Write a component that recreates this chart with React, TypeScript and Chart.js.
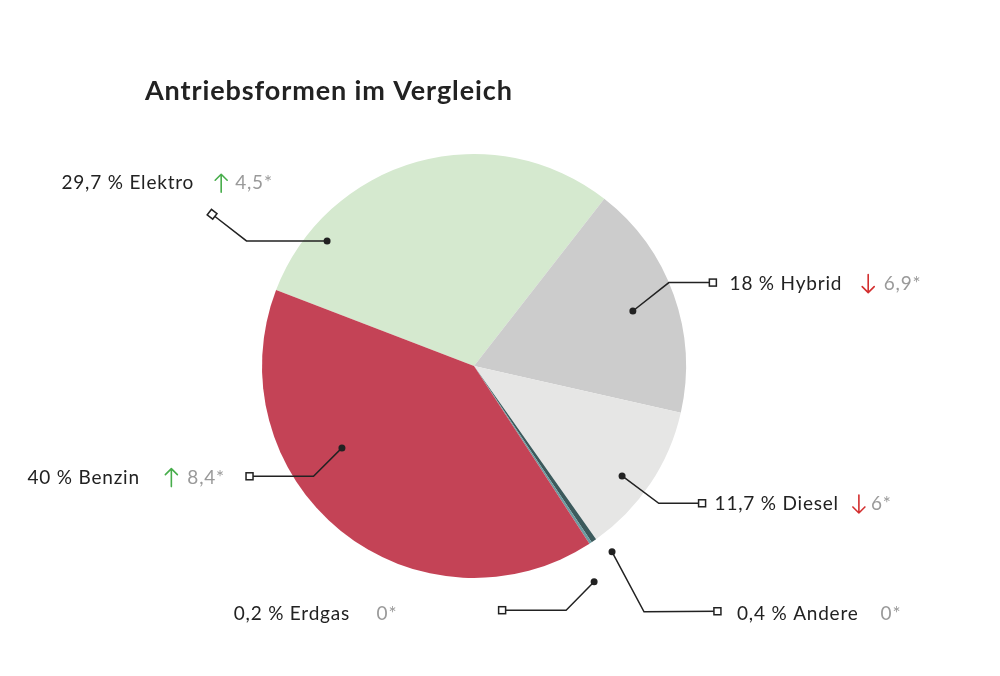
import React, { useEffect, useRef } from "react";
import { Chart, registerables } from "chart.js";

Chart.register(...registerables);

const TITLE = "Antriebsformen im Vergleich";
const CATEGORIES = ["Elektro", "Hybrid", "Diesel", "Andere", "Erdgas", "Benzin"];
const SHARES = [29.7, 18, 11.7, 0.4, 0.2, 40];
const SHARE_LABELS = ["29,7", "18", "11,7", "0,4", "0,2", "40"];
const CHANGES = ["4,5*", "6,9*", "6*", "0*", "0*", "8,4*"];
const TRENDS = ["up", "down", "down", "none", "none", "up"];
const COLORS = ["#d5e9cf", "#cccccc", "#e6e6e5", "#3c5a5c", "#6d9ca1", "#c44356"];

// leader-line layout (styling only): angle offset from slice middle (deg), radius factor,
// elbow & marker offsets relative to the dot, text start/baseline relative to the marker,
// gaps: [name -> arrow/value, arrow -> value]
const LAYOUT = [
  { dAng: -34.06, rf: 0.91, elbow: [-80.6, 0], marker: [-115, -26.7], text: [-150.6, -25], gaps: [21, 20] },
  { dAng: 0.58, rf: 0.793, elbow: [36, -28.4], marker: [80, -28.4], text: [16.7, 7], gaps: [20, 21.5] },
  { dAng: 2.82, rf: 0.87, elbow: [36.7, 27.3], marker: [80, 27.3], text: [12.5, 6.7], gaps: [14, 18] },
  { dAng: -2.16, rf: 1.092, elbow: [32, 60], marker: [105.4, 59.4], text: [19.6, 8.3], gaps: [22, 0] },
  { dAng: 4.26, rf: 1.165, elbow: [-28, 28.4], marker: [-92, 28.4], text: [-268.4, 10], gaps: [26.5, 0] },
  { dAng: 19.2, rf: 0.733, elbow: [-28.4, 28.4], marker: [-92.4, 28.4], text: [-222, 7.3], gaps: [25.5, 22] },
];

const FONT = "Lato, 'Open Sans', sans-serif";
const INK = "#222222";

function drawArrow(ctx: CanvasRenderingContext2D, x: number, base: number, dir: string) {
  const color = dir === "up" ? "#47ad4b" : "#d32f2f";
  ctx.save();
  ctx.strokeStyle = color;
  ctx.lineWidth = 1.6;
  ctx.lineCap = "round";
  ctx.lineJoin = "round";
  const top = base - 15;
  const bot = base + 3;
  ctx.beginPath();
  ctx.moveTo(x, top);
  ctx.lineTo(x, bot);
  if (dir === "up") {
    ctx.moveTo(x - 6, top + 6);
    ctx.lineTo(x, top);
    ctx.lineTo(x + 6, top + 6);
  } else {
    ctx.moveTo(x - 6, bot - 6);
    ctx.lineTo(x, bot);
    ctx.lineTo(x + 6, bot - 6);
  }
  ctx.stroke();
  ctx.restore();
}

function setSpacing(ctx: any, v: string) {
  if ("letterSpacing" in ctx) ctx.letterSpacing = v;
}

const leaderPlugin = {
  id: "leaderLabels",
  afterDraw(chart: any) {
    const ctx: CanvasRenderingContext2D = chart.ctx;
    const meta = chart.getDatasetMeta(0);
    ctx.save();
    // title
    ctx.fillStyle = INK;
    ctx.font = `bold 27px ${FONT}`;
    setSpacing(ctx, "0.9px");
    ctx.textBaseline = "alphabetic";
    ctx.textAlign = "left";
    ctx.fillText(TITLE, 145, 100);

    meta.data.forEach((arc: any, i: number) => {
      const p = arc.getProps(["x", "y", "startAngle", "endAngle", "outerRadius"], true);
      const L = LAYOUT[i];
      const ang = (p.startAngle + p.endAngle) / 2 + (L.dAng * Math.PI) / 180;
      const r = p.outerRadius * L.rf;
      const dx = p.x + r * Math.cos(ang);
      const dy = p.y + r * Math.sin(ang);
      const ex = dx + L.elbow[0];
      const ey = dy + L.elbow[1];
      const mx = dx + L.marker[0];
      const my = dy + L.marker[1];

      ctx.strokeStyle = INK;
      ctx.lineWidth = 1.5;
      ctx.beginPath();
      ctx.moveTo(dx, dy);
      ctx.lineTo(ex, ey);
      ctx.lineTo(mx, my);
      ctx.stroke();

      ctx.fillStyle = INK;
      ctx.beginPath();
      ctx.arc(dx, dy, 3.5, 0, Math.PI * 2);
      ctx.fill();

      // marker square aligned with last segment
      const rot = Math.atan2(my - ey, mx - ex);
      ctx.save();
      ctx.translate(mx, my);
      ctx.rotate(rot);
      ctx.fillStyle = "#ffffff";
      ctx.fillRect(-3.5, -3.5, 7, 7);
      ctx.strokeStyle = INK;
      ctx.lineWidth = 1.5;
      ctx.strokeRect(-3.5, -3.5, 7, 7);
      ctx.restore();

      // texts
      const tx = mx + L.text[0];
      const ty = my + L.text[1];
      ctx.font = `19px ${FONT}`;
      setSpacing(ctx, "0.8px");
      ctx.fillStyle = INK;
      const name = `${SHARE_LABELS[i]} % ${CATEGORIES[i]}`;
      ctx.fillText(name, tx, ty);
      let cx = tx + ctx.measureText(name).width + L.gaps[0];
      if (TRENDS[i] !== "none") {
        drawArrow(ctx, cx + 6, ty, TRENDS[i]);
        cx += L.gaps[1];
      }
      ctx.fillStyle = "#9a9a9a";
      ctx.fillText(CHANGES[i], cx, ty);
    });
    ctx.restore();
  },
};

export default function App() {
  const ref = useRef<HTMLCanvasElement>(null);
  useEffect(() => {
    if (!ref.current) return;
    const chart = new Chart(ref.current, {
      type: "pie",
      data: {
        labels: CATEGORIES,
        datasets: [
          {
            data: SHARES,
            backgroundColor: COLORS,
            borderWidth: 0,
            hoverOffset: 0,
            offset: 0,
          },
        ],
      },
      options: {
        responsive: false,
        animation: false,
        rotation: -69,
        layout: { padding: { left: 262, right: 314, top: 154, bottom: 98 } },
        plugins: { legend: { display: false }, tooltip: { enabled: false }, title: { display: false } },
      },
      plugins: [leaderPlugin],
    });
    return () => chart.destroy();
  }, []);
  return (
    <div style={{ position: "absolute", left: 0, top: 0, width: 1000, height: 676, background: "#fff" }}>
      <canvas ref={ref} width={1000} height={676} />
    </div>
  );
}
